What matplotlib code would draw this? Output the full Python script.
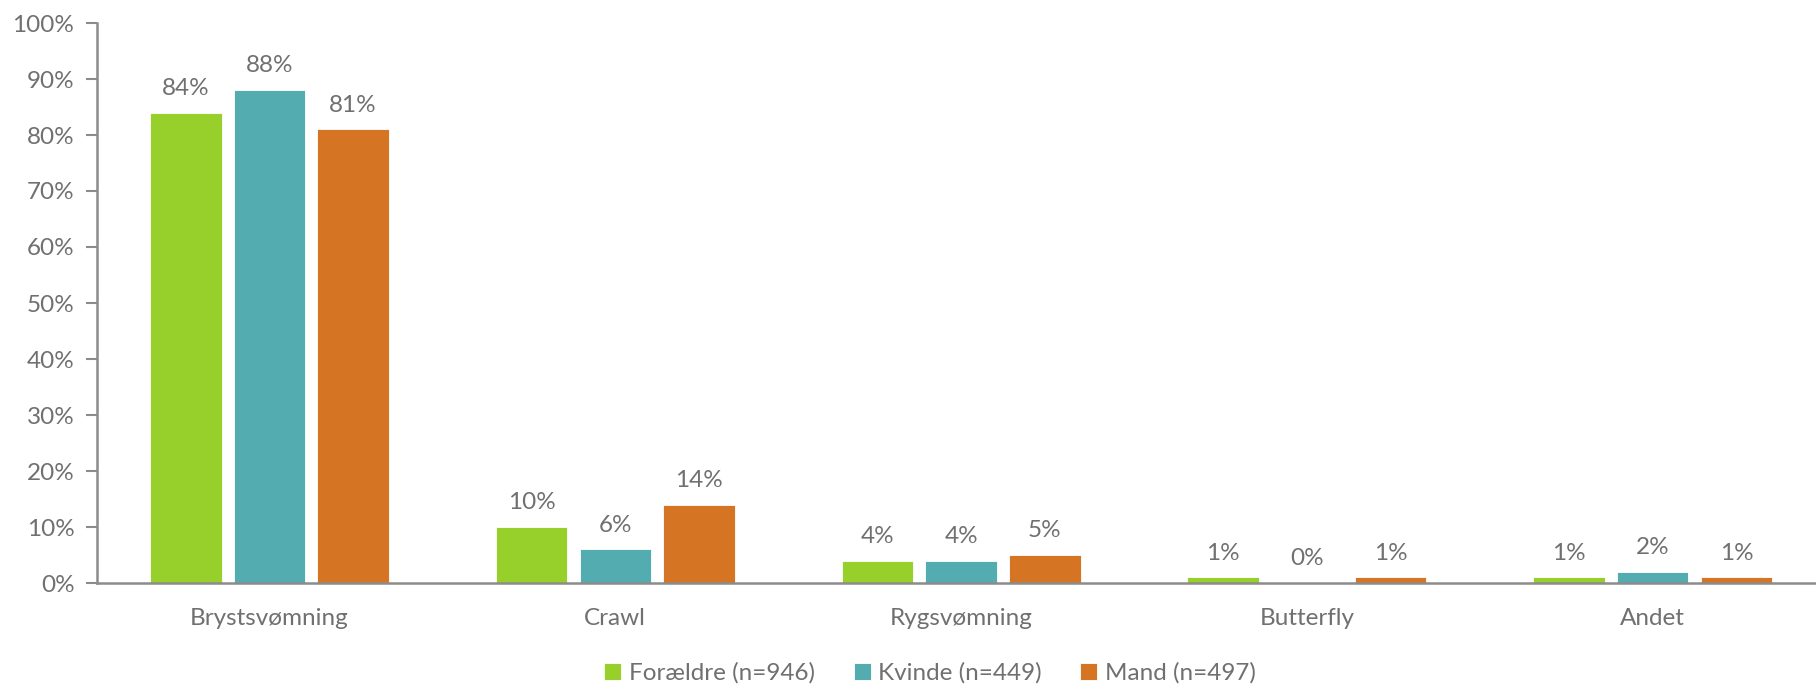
import matplotlib
matplotlib.use("Agg")
import matplotlib.pyplot as plt
import numpy as np
from matplotlib.ticker import FuncFormatter

categories = ["Brystsvømning", "Crawl", "Rygsvømning", "Butterfly", "Andet"]
series_names = ["Forældre (n=946)", "Kvinde (n=449)", "Mand (n=497)"]
foraeldre = [84, 10, 4, 1, 1]
kvinde = [88, 6, 4, 0, 2]
mand = [81, 14, 5, 1, 1]
colors = ["#97D02A", "#53ACB0", "#D57524"]

plt.rcParams['font.family'] = ['Lato', 'DejaVu Sans']
text_color = "#707070"
axis_color = "#8C8C8C"

fig = plt.figure(figsize=(18.16, 6.89), dpi=100)
left_px, right_px = 96.6, 1825.6
ax = fig.add_axes([left_px/1816, 1-583/689, (right_px-left_px)/1816, (583-23)/689])

x = np.arange(len(categories))
width = 0.207
offsets = [-0.242, 0, 0.242]
for vals, name, col, off in zip([foraeldre, kvinde, mand], series_names, colors, offsets):
    bars = ax.bar(x + off, vals, width, color=col, label=name, edgecolor='white', linewidth=0.6)
    for b, v in zip(bars, vals):
        ax.annotate(f"{v}%", (b.get_x() + b.get_width()/2, v), xytext=(0, 10),
                    textcoords="offset points", ha='center', va='bottom',
                    fontsize=17.5, color=text_color)

ax.set_xlim(-0.5, len(categories) - 0.5)
ax.set_ylim(0, 100)
ax.set_yticks(np.arange(0, 101, 10))
ax.yaxis.set_major_formatter(FuncFormatter(lambda v, p: f"{int(v)}%"))
ax.set_xticks(x)
ax.set_xticklabels(categories)
ax.tick_params(axis='x', length=0, pad=18, labelsize=17.5, labelcolor=text_color)
ax.tick_params(axis='y', length=8, width=1.5, color=axis_color, labelsize=17.5, labelcolor=text_color, pad=8)
for s in ['top', 'right']:
    ax.spines[s].set_visible(False)
for s in ['left', 'bottom']:
    ax.spines[s].set_color(axis_color)
    ax.spines[s].set_linewidth(1.8)

leg = fig.legend(loc='center', bbox_to_anchor=(930/1816, 1-673/689), ncol=3, frameon=False,
                 fontsize=17.5, handlelength=0.7, handleheight=0.7, handletextpad=0.3, columnspacing=1.6)
for t in leg.get_texts():
    t.set_color(text_color)

fig.savefig("out.png", dpi=100)
